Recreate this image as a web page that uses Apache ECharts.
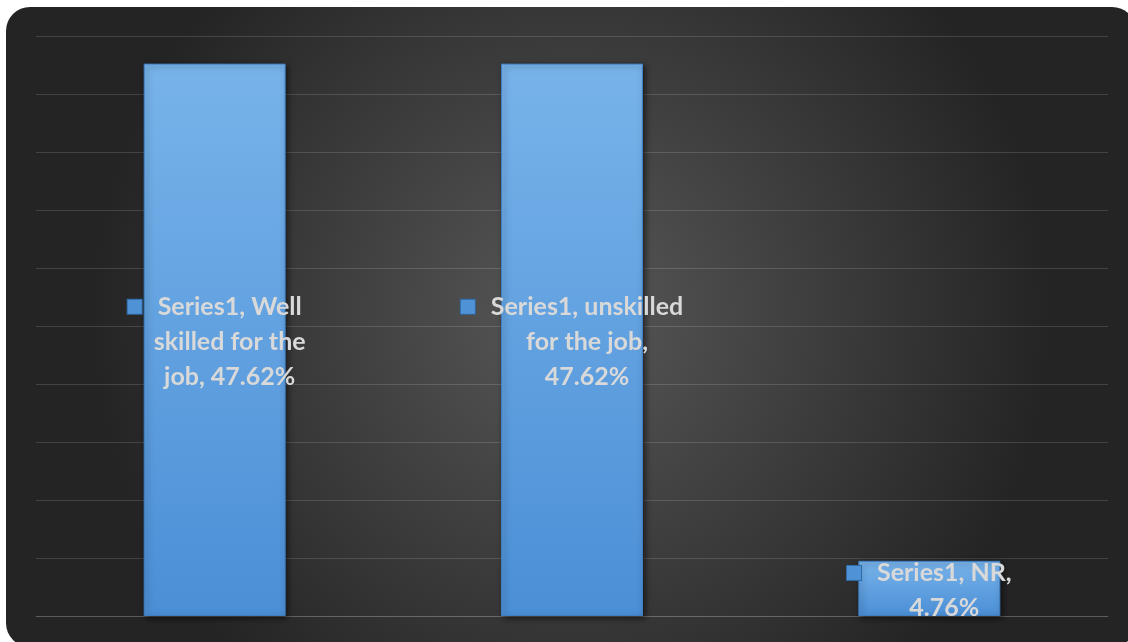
<!DOCTYPE html>
<html>
<head>
<meta charset="utf-8">
<script src="https://cdn.jsdelivr.net/npm/echarts@6/dist/echarts.min.js"></script>
<style>
  html, body { margin: 0; padding: 0; background: #ffffff; }
  #main { width: 1128px; height: 642px; }
</style>
</head>
<body>
<div id="main"></div>
<script>
const seriesName = 'Series1';
const categories = ['Well skilled for the job', 'unskilled for the job', 'NR'];
const values = [47.62, 47.62, 4.76];

const labelFont = 'bold 25px Lato';
const wrapWidth = 196; // px, roughly where Excel broke the labels

// simple word wrap using canvas measuring
const ctx = document.createElement('canvas').getContext('2d');
ctx.font = labelFont;
function wrap (text) {
  const words = text.split(' ');
  const lines = [];
  let cur = '';
  words.forEach(w => {
    const next = cur ? cur + ' ' + w : w;
    if (cur && ctx.measureText(next).width > wrapWidth) {
      lines.push(cur);
      cur = w;
    } else {
      cur = next;
    }
  });
  if (cur) lines.push(cur);
  return lines;
}

let myChart = echarts.init(document.getElementById('main'));

let option = {
  animation: false,
  graphic: [
    {
      type: 'rect',
      left: 6,
      top: 7,
      z: -10,
      silent: true,
      shape: { width: 1130, height: 640, r: 24 },
      style: {
        fill: new echarts.graphic.RadialGradient(0.5, 0.48, 0.75, [
          { offset: 0, color: '#585858' },
          { offset: 1, color: '#242424' }
        ])
      }
    }
  ],
  grid: {
    left: 36,
    right: 20,
    top: 36,
    bottom: 26
  },
  xAxis: {
    type: 'category',
    data: categories,
    axisLine: {
      show: true,
      lineStyle: { color: 'rgba(255,255,255,0.14)', width: 1 }
    },
    axisTick: { show: false },
    axisLabel: { show: false }
  },
  yAxis: {
    type: 'value',
    min: 0,
    max: 50,
    interval: 5,
    axisLine: { show: false },
    axisTick: { show: false },
    axisLabel: { show: false },
    splitLine: {
      lineStyle: { color: 'rgba(255,255,255,0.14)', width: 1 }
    }
  },
  series: [
    {
      name: seriesName,
      type: 'bar',
      data: values,
      barWidth: 142,
      itemStyle: {
        color: new echarts.graphic.LinearGradient(0, 0, 0, 1, [
          { offset: 0, color: '#78b3ea' },
          { offset: 1, color: '#4b8fd6' }
        ]),
        borderColor: '#3f7fc2',
        borderWidth: 1,
        shadowColor: 'rgba(0,0,0,0.55)',
        shadowBlur: 6,
        shadowOffsetX: 2,
        shadowOffsetY: 2
      },
      label: {
        show: true,
        position: 'inside',
        offset: [0, 2],
        formatter: function (p) {
          const text = seriesName + ', ' + p.name + ', ' + p.value.toFixed(2) + '%';
          return wrap(text).map((l, i) =>
            (i === 0 ? '{icon|}{gap|}' : '{sp|}') + '{t|' + l + '}'
          ).join('\n');
        },
        rich: {
          t: {
            fontFamily: 'Lato',
            fontWeight: 'bold',
            fontSize: 25,
            color: '#d9d9d9',
            lineHeight: 35
          },
          icon: {
            width: 14,
            height: 14,
            backgroundColor: '#4f92d6',
            borderColor: '#2f6aa6',
            borderWidth: 1
          },
          gap: { width: 16 },
          sp: { width: 30 }
        }
      }
    }
  ]
};

myChart.setOption(option);
</script>
</body>
</html>
